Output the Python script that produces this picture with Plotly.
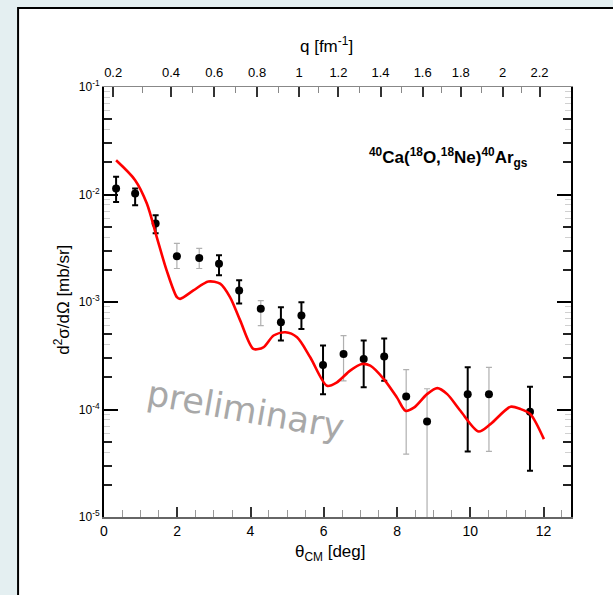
import plotly.graph_objects as go

# ---------------- data ----------------
theta_exp = [0.33, 0.85, 1.41, 1.99, 2.60, 3.14, 3.69, 4.28, 4.83, 5.39,
             5.98, 6.54, 7.09, 7.65, 8.25, 8.82, 9.93, 10.51, 11.63]
xs_exp = [1.14e-2, 1.02e-2, 5.36e-3, 2.67e-3, 2.56e-3, 2.27e-3, 1.28e-3, 8.65e-4, 6.49e-4, 7.49e-4,
          2.59e-4, 3.29e-4, 2.95e-4, 3.12e-4, 1.32e-4, 7.74e-5, 1.39e-4, 1.39e-4, 9.53e-5]
xs_hi = [1.46e-2, 1.14e-2, 6.41e-3, 3.51e-3, 3.15e-3, 2.72e-3, 1.59e-3, 1.03e-3, 8.96e-4, 9.95e-4,
         3.93e-4, 4.86e-4, 4.38e-4, 4.57e-4, 2.35e-4, 1.56e-4, 2.47e-4, 2.47e-4, 1.63e-4]
xs_lo = [8.53e-3, 7.94e-3, 4.36e-3, 2.05e-3, 2.05e-3, 1.77e-3, 9.7e-4, 6.04e-4, 4.38e-4, 5.62e-4,
         1.39e-4, 1.85e-4, 1.61e-4, 1.85e-4, 3.85e-5, 1.0e-6, 4.07e-5, 4.07e-5, 2.69e-5]
light_err = [3, 4, 7, 11, 14, 15, 17]   # indices drawn with pale error bars

theta_th = [0.33, 0.85, 1.17, 1.44, 1.71, 1.99, 2.08, 2.44, 2.85, 3.17, 3.44, 3.72, 4.08, 4.35,
            4.63, 4.95, 5.27, 5.63, 6.09, 6.36, 6.72, 7.04, 7.27, 7.64, 8.00, 8.23, 8.46, 8.82,
            9.10, 9.37, 9.73, 10.23, 10.55, 11.10, 11.37, 11.64, 12.01]
xs_th = [2.08e-2, 1.36e-2, 8.24e-3, 4.02e-3, 1.97e-3, 1.11e-3, 1.07e-3, 1.28e-3, 1.55e-3, 1.48e-3,
         1.11e-3, 6.71e-4, 3.66e-4, 3.79e-4, 4.88e-4, 5.23e-4, 4.70e-4, 3.06e-4, 1.66e-4, 1.79e-4,
         2.30e-4, 2.65e-4, 2.56e-4, 1.92e-4, 1.29e-4, 9.73e-5, 1.04e-4, 1.39e-4, 1.58e-4, 1.39e-4,
         9.73e-5, 6.24e-5, 7.31e-5, 1.06e-4, 1.01e-4, 9.06e-5, 5.30e-5]

q_labels = ["0.2", "0.4", "0.6", "0.8", "1", "1.2", "1.4", "1.6", "1.8", "2", "2.2"]
q_theta = [0.25, 1.83, 3.01, 4.18, 5.33, 6.40, 7.55, 8.70, 9.74, 10.88, 11.89]

x_ticks = [0, 2, 4, 6, 8, 10, 12]
y_decades = [-5, -4, -3, -2, -1]
minor_dark = [2, 3, 5]
minor_light = [4, 6, 7, 8, 9]

# ---------------- figure ----------------
fig = go.Figure()

def add_points(idx, color, width):
    fig.add_trace(go.Scatter(
        x=[theta_exp[i] for i in idx],
        y=[xs_exp[i] for i in idx],
        mode="markers",
        marker=dict(color="black", size=8),
        error_y=dict(type="data", symmetric=False,
                     array=[xs_hi[i] - xs_exp[i] for i in idx],
                     arrayminus=[xs_exp[i] - xs_lo[i] for i in idx],
                     color=color, thickness=width, width=3),
        showlegend=False, hoverinfo="skip"))

dark_idx = [i for i in range(len(theta_exp)) if i not in light_err]
add_points(light_err, "#b0b0b0", 1.2)
add_points(dark_idx, "black", 2)

fig.add_trace(go.Scatter(x=theta_th, y=xs_th, mode="lines",
                         line=dict(color="#ff0000", width=2.6, shape="spline", smoothing=0.8),
                         showlegend=False, hoverinfo="skip"))

# invisible traces carrying the top axis and the minor-tick y axes
fig.add_trace(go.Scatter(x=[0], y=[1e-3], xaxis="x2", yaxis="y2", mode="markers",
                         marker=dict(opacity=0), showlegend=False, hoverinfo="skip"))
fig.add_trace(go.Scatter(x=[0], y=[1e-3], xaxis="x2", yaxis="y3", mode="markers",
                         marker=dict(opacity=0), showlegend=False, hoverinfo="skip"))

font = "Liberation Sans, Arial, sans-serif"

minor_y_dark = [m * 10 ** d for d in y_decades[:-1] for m in minor_dark]
minor_y_light = [m * 10 ** d for d in y_decades[:-1] for m in minor_light]
q_minor = [(q_theta[i] + q_theta[i + 1]) / 2 for i in range(len(q_theta) - 1)]

minor_axis = dict(type="log", range=[-5, -1], overlaying="y", side="left",
                  showticklabels=False, ticks="inside", mirror="allticks",
                  showline=False, showgrid=False, zeroline=False)

fig.update_layout(
    width=613, height=595,
    margin=dict(l=104, r=42, t=87, b=78),
    paper_bgcolor="#e4eff1",
    plot_bgcolor="white",
    font=dict(family=font, color="black"),
    xaxis=dict(range=[0, 12.75], tickvals=x_ticks, ticktext=[str(v) for v in x_ticks],
               ticks="inside", ticklen=10, tickwidth=1.5, tickcolor="#333",
               minor=dict(dtick=0.5, ticks="inside", ticklen=7, tickcolor="#999", tickwidth=1),
               showline=True, linecolor="#666", linewidth=1.5, mirror=False,
               showgrid=False, zeroline=False, tickfont=dict(size=14)),
    xaxis2=dict(range=[0, 12.75], overlaying="x", side="top",
                tickvals=q_theta, ticktext=q_labels,
                ticks="inside", ticklen=10, tickwidth=1.5, tickcolor="#333",
                minor=dict(tickvals=q_minor, ticks="inside", ticklen=6, tickcolor="#888", tickwidth=1),
                showline=True, linecolor="#888", linewidth=1.2, ticklabelstandoff=4,
                showgrid=False, zeroline=False, tickfont=dict(size=13)),
    yaxis=dict(type="log", range=[-5, -1],
               tickvals=[10 ** d for d in y_decades],
               ticktext=["10<sup>%d</sup>" % d for d in y_decades],
               ticks="inside", ticklen=14, tickwidth=2, tickcolor="black",
               showline=True, linecolor="black", linewidth=2, mirror="allticks",
               showgrid=False, zeroline=False, tickfont=dict(size=12)),
    yaxis2=dict(minor_axis, tickvals=minor_y_dark, ticklen=8, tickwidth=1.8, tickcolor="#222"),
    yaxis3=dict(minor_axis, tickvals=minor_y_light, ticklen=6, tickwidth=1, tickcolor="#d0d0d0"),
    shapes=[dict(type="rect", xref="paper", yref="paper",
                 x0=-0.184, x1=1.3, y0=-0.3, y1=1.184,
                 fillcolor="white", line=dict(color="black", width=2), layer="below")],
    annotations=[
        dict(text="q [fm<sup>-1</sup>]", xref="paper", yref="paper", x=0.4775, y=1.098,
             xanchor="center", yanchor="middle", showarrow=False, font=dict(size=17)),
        dict(text="θ<sub>CM</sub> [deg]", xref="paper", yref="paper", x=0.484, y=-0.083,
             xanchor="center", yanchor="middle", showarrow=False, font=dict(size=17)),
        dict(text="d<sup>2</sup>σ/dΩ [mb/sr]", xref="paper", yref="paper", x=-0.09, y=0.505,
             xanchor="center", yanchor="middle",
             textangle=-90, showarrow=False, font=dict(size=17)),
        dict(text="<b><sup>40</sup>Ca(<sup>18</sup>O,<sup>18</sup>Ne)<sup>40</sup>Ar<sub>gs</sub></b>",
             xref="paper", yref="paper", x=0.737, y=0.837, xanchor="center", yanchor="middle",
             showarrow=False, font=dict(size=17)),
        dict(text="preliminary", xref="paper", yref="paper", x=0.302, y=0.249,
             xanchor="center", yanchor="middle", textangle=10, showarrow=False,
             font=dict(size=35, color="#a8a8a8", family="DejaVu Sans, sans-serif")),
    ],
)

fig.write_html("out.html")
